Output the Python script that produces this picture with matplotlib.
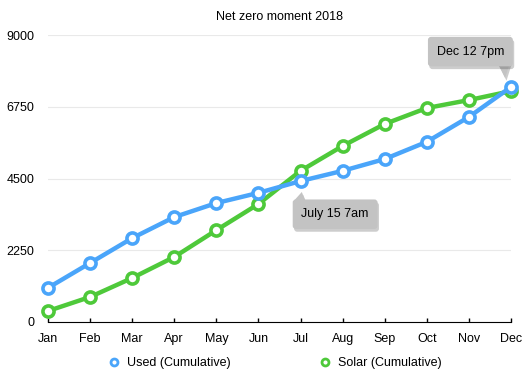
import matplotlib
matplotlib.use("Agg")
import matplotlib.pyplot as plt
import matplotlib.patheffects as pe
from matplotlib.lines import Line2D
from matplotlib.patches import Polygon
from matplotlib.transforms import ScaledTranslation

plt.rcParams["font.family"] = ["Liberation Sans", "DejaVu Sans"]

months = ["Jan", "Feb", "Mar", "Apr", "May", "Jun", "Jul", "Aug", "Sep", "Oct", "Nov", "Dec"]
used = [1070, 1850, 2630, 3290, 3730, 4050, 4420, 4740, 5110, 5650, 6430, 7370]
solar = [345, 785, 1380, 2040, 2880, 3700, 4740, 5520, 6210, 6710, 6960, 7240]
yticks = [0, 2250, 4500, 6750, 9000]

BLUE = "#4aa5fa"
GREEN = "#4ec93a"
BOX = "#c3c3c3"

fig = plt.figure(figsize=(5.3, 3.79), dpi=100)
ax = fig.add_axes([48 / 530, 1 - 322 / 379, 463 / 530, 287 / 379])

x = list(range(len(months)))
mk = dict(marker="o", ms=8, mfc="white", mew=2.6, lw=3.2, clip_on=False)
ax.plot(x, solar, color=GREEN, zorder=3, **mk)
ax.plot(x, used, color=BLUE, zorder=4, **mk)

ax.set_xlim(0, 11)
ax.set_ylim(0, 9000)
ax.set_xticks(x, months)
ax.set_yticks(yticks)
ax.tick_params(axis="x", direction="in", length=3, width=1, pad=8, labelsize=9)
ax.tick_params(axis="y", length=0, pad=10, labelsize=9)
for s in ["top", "right", "left"]:
    ax.spines[s].set_visible(False)
ax.spines["bottom"].set_color("black")
ax.grid(axis="y", color="#e9e9e9", lw=0.8)
ax.set_axisbelow(True)

ax.set_title("Net zero moment 2018", fontsize=9, pad=11)

shadow = [pe.SimplePatchShadow(offset=(1, -2), alpha=0.25), pe.Normal()]


def callout(text, tip, offset, pointer):
    # pointer: triangle vertices in inches relative to the tip
    trans = fig.dpi_scale_trans + ScaledTranslation(tip[0], tip[1], ax.transData)
    tri = Polygon(pointer, closed=True, transform=trans, fc=BOX, ec="none",
                  zorder=6, clip_on=False)
    tri.set_path_effects(shadow)
    ax.add_patch(tri)
    ann = ax.annotate(
        text, xy=tip, xytext=offset, textcoords="offset points",
        ha="center", va="center", fontsize=9, zorder=6,
        bbox=dict(boxstyle="round,pad=0.7,rounding_size=0.25", fc=BOX, ec="none"),
    )
    ann.get_bbox_patch().set_path_effects(shadow)
    return ann


callout("July 15 7am", (6.03, 4077), (24, -16),
        [(0, 0), (-0.09, -0.1), (0.04, -0.1)])
callout("Dec 12 7pm", (10.86, 7652), (-25, 19),
        [(0, 0), (-0.08, 0.16), (0.05, 0.16)])

handles = [
    Line2D([], [], ls="none", marker="o", ms=5, mfc="white", mew=2, color=BLUE),
    Line2D([], [], ls="none", marker="o", ms=5, mfc="white", mew=2, color=GREEN),
]
fig.legend(handles, ["Used (Cumulative)", "Solar (Cumulative)"], loc="center",
           bbox_to_anchor=(0.5 + 9 / 530, 1 - 363 / 379), ncol=2, frameon=False, fontsize=9,
           columnspacing=7.0, handletextpad=0.4, handlelength=1.2)

fig.savefig("out.png", dpi=100, facecolor="white")
